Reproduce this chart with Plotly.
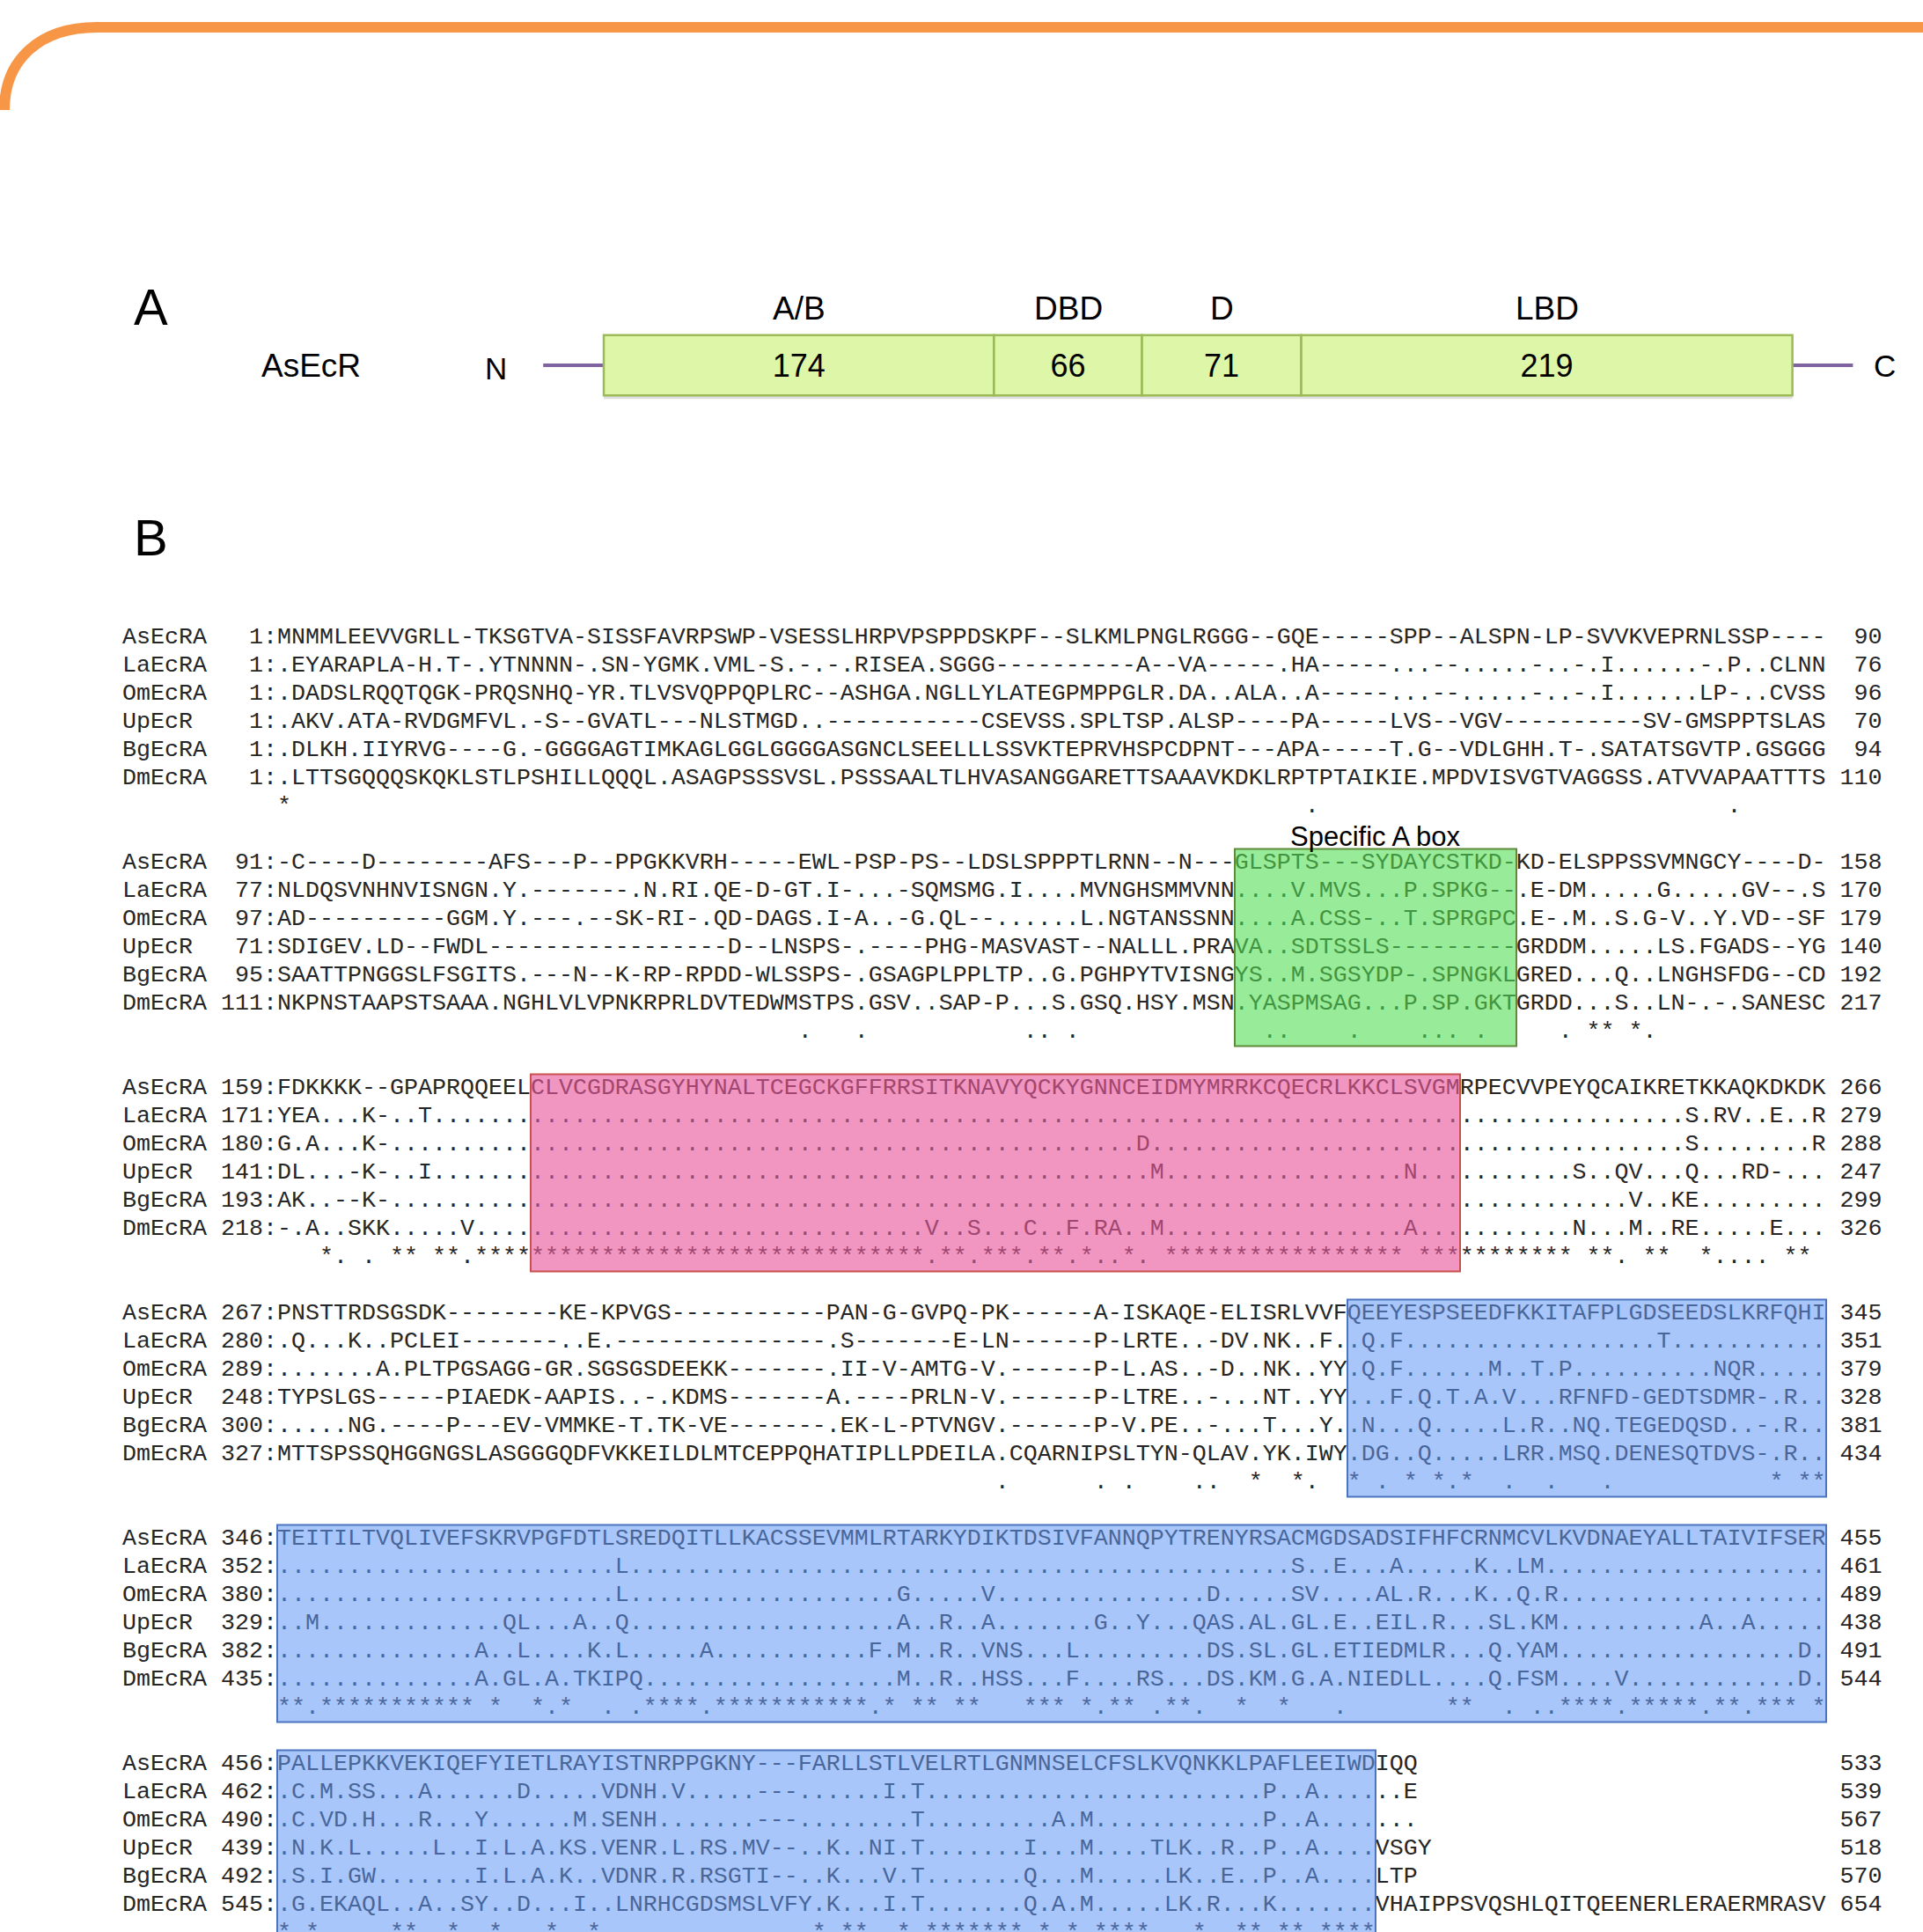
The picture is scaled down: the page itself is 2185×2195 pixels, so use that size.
import numpy as np
import plotly.graph_objects as go

FIG_W, FIG_H = 2185, 2195

# ---------------- Panel A: AsEcR domain architecture ----------------
PROTEIN = "AsEcR"
DOMAIN_NAMES = ["A/B", "DBD", "D", "LBD"]
DOMAIN_LENGTHS = [174, 66, 71, 219]

# ---------------- Panel B: multiple sequence alignment ----------------
SPECIES = ["AsEcRA", "LaEcRA", "OmEcRA", "UpEcR", "BgEcRA", "DmEcRA"]

BLOCK_STARTS = [
    [1, 1, 1, 1, 1, 1],
    [91, 77, 97, 71, 95, 111],
    [159, 171, 180, 141, 193, 218],
    [267, 280, 289, 248, 300, 327],
    [346, 352, 380, 329, 382, 435],
    [456, 462, 490, 439, 492, 545],
]
BLOCK_ENDS = [
    [90, 76, 96, 70, 94, 110],
    [158, 170, 179, 140, 192, 217],
    [266, 279, 288, 247, 299, 326],
    [345, 351, 379, 328, 381, 434],
    [455, 461, 489, 438, 491, 544],
    [533, 539, 567, 518, 570, 654],
]

BLOCK_1 = [
    "MNMMLEEVVGRLL-TKSGTVA-SISSFAVRPSWP-VSESSLHRPVPSPPDSKPF--SLKMLPNGLRGGG--GQE-----SPP--ALSPN-LP-SVVKVEPRNLSSP----",
    ".EYARAPLA-H.T-.YTNNNN-.SN-YGMK.VML-S.-.-.RISEA.SGG" + "G----------A--VA-----.HA-----...--.....-..-.I......-.P..CLNN",
    ".DADSLRQQTQGK-PRQSNHQ-YR.TLVSVQPPQPLRC--ASHGA.NGLLY" + "LATEGPMPPGLR.DA..ALA..A-----...--.....-..-.I......LP-..CVSS",
    ".AKV.ATA-RVDGMFVL.-S--GVATL---NLSTMGD.." + "-----------" + "CSEVSS.SPLTSP.ALSP----PA-----LVS--VGV----------SV-GMSPPTSLAS",
    ".DLKH.IIYRVG----G.-GGGGAGTIMKAGLGGLGGGGASGNCLSEELL" + "LSSVKTEPRVHSPCDPNT---APA-----T.G--VDLGHH.T-.SATATSGVTP.GSGGG",
    ".LTTSGQQQSKQKLSTLPSHILLQQQL.ASAGPSSSVSL.PSSSAALTLH" + "VASANGGARETTSAAAVKDKLRPTPTAIKIE.MPDVISVGTVAGGSS.ATVVAPAATTTS",
]
BLOCK_2 = [
    "-C----D--------AFS---P--PPGKKVRH-----EWL-PSP-PS--L" + "DSLSPPPTLRNN--N---GLSPTS---SYDAYCSTKD-KD-ELSPPSSVMNGCY----D-",
    "NLDQSVNHNVISNGN.Y.-------.N.RI.QE-D-GT.I-...-SQMSM" + "G.I....MVNGHSMMVNN....V.MVS...P.SPKG--.E-DM.....G.....GV--.S",
    "AD----------GGM.Y.---.--SK-RI-.QD-DAGS.I-A..-G.QL-" + "-......L.NGTANSSNN....A.CSS-..T.SPRGPC.E-.M..S.G-V..Y.VD--SF",
    "SDIGEV.LD--FWDL" + "-" * 17 + "D--LNSPS-.----PHG-" + "MASVAST--NALLL.PRAVA..SDTSSLS---------GRDDM.....LS.FGADS--YG",
    "SAATTPNGGSLFSGITS.---N--K-RP-RPDD-WLSSPS-.GSAGPLPP" + "LTP..G.PGHPYTVISNGYS..M.SGSYDP-.SPNGKLGRED...Q..LNGHSFDG--CD",
    "NKPNSTAAPSTSAAA.NGHLVLVPNKRPRLDVTEDWMSTPS.GSV..SAP" + "-P...S.GSQ.HSY.MSN.YASPMSAG...P.SP.GKTGRDD...S..LN-.-.SANESC",
]
BLOCK_3 = [
    "FDKKKK--GPAPRQQEEL" + "CLVCGDRASGYHYNALTCEGCKGFFRRSITKN" + "AVYQCKYGNNCEIDMYMRRKCQECRLKKCLSVGM" + "RPECVVPEYQCAIKRETKKAQKDKDK",
    "YEA...K-..T......." + "." * 66 + "................S.RV..E..R",
    "G.A...K-.........." + "." * 43 + "D" + "." * 22 + "................S........R",
    "DL...-K-..I......." + "." * 44 + "M" + "." * 17 + "N..." + "........S..QV...Q...RD-...",
    "AK..--K-.........." + "." * 66 + "............V..KE.........",
    "-.A..SKK.....V...." + "." * 28 + "V..S...C..F.RA..M" + "." * 17 + "A..." + "........N...M..RE.....E...",
]
BLOCK_4 = [
    "PNSTTRDSGSDK--------KE-KPVGS-----------PAN-G-GVPQ-" + "PK------A-ISKAQE-ELISRLVVF" + "QEEYESPSEEDFKKITAFPLGDSEEDSLKRFQHI",
    ".Q...K..PCLEI-------..E.---------------.S-------E-" + "LN------P-LRTE..-DV.NK..F." + ".Q.F" + "." * 18 + "T" + "." * 11,
    ".......A.PLTPGSAGG-GR.SGSGSDEEKK-------.II-V-AMTG-" + "V.------P-L.AS..-D..NK..YY" + ".Q.F......M..T.P..........NQR.....",
    "TYPSLGS-----PIAEDK-AAPIS..-.KDMS-------A.----PRLN-" + "V.------P-LTRE..-...NT..YY" + "...F.Q.T.A.V...RFNFD-GEDTSDMR-.R..",
    ".....NG.----P---EV-VMMKE-T.TK-VE-------.EK-L-PTVNG" + "V.------P-V.PE..-...T...Y." + ".N...Q.....L.R..NQ.TEGEDQSD..-.R..",
    "MTTSPSSQHGGNGSLASGGGQDFVKKEILDLMTCEPPQHATIPLLPDEIL" + "A.CQARNIPSLTYN-QLAV.YK.IWY" + ".DG..Q.....LRR.MSQ.DENESQTDVS-.R..",
]
BLOCK_5 = [
    "TEITILTVQLIVEFSKRVPGFDTLSREDQITLLKACSSEVMMLRTARKYD" + "IKTDSIVFANNQPYTRENYRSACMGDSADSIFHFCRNMCVLKVDNAEYALLTAIVIFSER",
    "." * 24 + "L" + "." * 47 + "S..E...A.....K..LM" + "." * 20,
    "." * 24 + "L" + "." * 19 + "G" + "." * 5 + "V" + "." * 15 + "D" + "." * 5 + "SV....AL.R...K..Q.R" + "." * 19,
    "..M" + "." * 13 + "QL...A..Q" + "." * 19 + "A..R..A" + "." * 7 + "G..Y..." + "QAS.AL.GL.E..EIL.R...SL.KM" + "." * 10 + "A..A" + "." * 5,
    "." * 14 + "A..L....K.L.....A" + "." * 11 + "F.M..R..VNS...L" + "." * 9 + "DS.SL.GL.ETIEDMLR" + "..." + "Q.YAM" + "." * 17 + "D.",
    "." * 14 + "A.GL.A.TKIPQ" + "." * 18 + "M..R..HSS...F" + "...." + "RS" + "..." + "DS.KM.G.A.NIEDLL" + "...." + "Q.FSM" + "...." + "V" + "." * 12 + "D.",
]
BLOCK_6 = [
    "PALLEPKKVEKIQEFYIETLRAYISTNRPPGKNY---FARLLSTLVELRT" + "LGNMNSELCFSLKVQNKKLPAFLEEIWD" + "IQQ",
    ".C.M.SS...A......D.....VDNH.V.....---......I.T...." + "." * 20 + "P..A...." + "..E",
    ".C.VD.H...R...Y......M.SENH.......---........T...." + ".....A.M" + "." * 12 + "P..A...." + "...",
    ".N.K.L.....L..I.L.A.KS.VENR.L.RS.MV--..K..NI.T...." + "...I...M....TLK..R..P..A...." + "VSGY",
    ".S.I.GW.......I.L.A.K..VDNR.R.RSGTI--..K...V.T...." + "...Q...M.....LK..E..P..A...." + "LTP",
    ".G.EKAQL..A..SY..D...I..LNRHCGDSMSLVFY.K...I.T...." + "...Q.A.M.....LK.R...K......." + "VHAIPPSVQSHLQITQEENERLERAERMRASV",
]
BLOCKS = [BLOCK_1, BLOCK_2, BLOCK_3, BLOCK_4, BLOCK_5, BLOCK_6]

CONSENSUS = [
    "*" + " " * 72 + "." + " " * 29 + "." + " " * 6,
    " " * 37 + "." + "   ." + " " * 11 + ".." + " ." + " " * 13 + ".." + "    ." + "    ..." + " ." + " " * 5 + "." + " **" + " *.",
    "   *." + " ." + " **" + " **." + "****" + "*" * 28 + "." + "**" + "." + "***" + "." + "**" + "." + "*" + ".." + "*" + "." + " "
    + "*" * 17 + " " + "***" + "*" * 8 + " **." + " **" + "  *" + "...." + " **" + " ",
    " " * 51 + "." + " " * 6 + "." + " ." + " " * 4 + ".." + "  *" + "  *." + "  *" + " ." + " *" + " *.*" + "  ." + "  ." + "   ." + " " * 11 + "*" + " **",
    "**." + "*" * 11 + " *" + "  *" + ".*" + "  ." + " ." + "****" + "." + "*" * 11 + ".*" + " **" + " **" + "   ***" + " *." + "** " + ".**." + "  *"
    + "  *" + "   ." + " " * 7 + "**" + "  . .." + "****" + "." + "*****" + ".**.***" + " *",
    "* *     **  *  *   *  *" + " " * 15 + "* **  * " + "*" * 7 + " * * ****   *  ** ** ****",
]

# Highlighted alignment regions: (block index, first column, last column, style key)
HIGHLIGHTS = [
    (1, 69, 88, "abox"),
    (2, 19, 84, "dbd"),
    (3, 77, 110, "lbd"),
    (4, 1, 110, "lbd"),
    (5, 1, 78, "lbd"),
]
HIGHLIGHT_STYLE = {
    "abox": dict(fill="rgba(83,222,83,0.60)", line="#5E8A3A"),
    "dbd": dict(fill="rgba(231,88,156,0.63)", line="#C8504F"),
    "lbd": dict(fill="rgba(99,153,246,0.56)", line="#4A74C0"),
}

SEQ_COLS = 110
for blk in BLOCKS:
    for s in blk:
        assert len(s) <= SEQ_COLS, (len(s), s)
for c in CONSENSUS:
    assert len(c) <= SEQ_COLS, (len(c), c)

# ---------------- Page geometry ----------------
CHAR_W = 16.0          # px per alignment column
COL1_LEFT = 315.0      # px, left edge of alignment column 1
ROW_H = 32.0           # px per text row
ROW0 = 724.5           # px, centre of first alignment row
ROWS_PER_BLOCK = 8
MONO_SIZE = CHAR_W / 0.6001

BAR_ROW = -9.67
BAR_HEIGHT = 2.14
HEADER_ROW = -11.7
RES_LEFT_PX, RES_RIGHT_PX = 686.0, 2036.6
TAIL_RES = 27

res_per_px = sum(DOMAIN_LENGTHS) / (RES_RIGHT_PX - RES_LEFT_PX)

NBSP = "\u00a0"

fig = go.Figure()

# ---- Panel A bars ----
lengths = np.array(DOMAIN_LENGTHS)
starts = np.concatenate([[0], np.cumsum(lengths)[:-1]])
total = int(lengths.sum())

fig.add_trace(go.Bar(
    x=lengths, base=starts, y=[BAR_ROW + 0.12] * len(lengths), orientation="h",
    width=BAR_HEIGHT, xaxis="x2", yaxis="y",
    marker=dict(color="rgba(0,0,0,0.13)", line=dict(width=0)),
    hoverinfo="skip", showlegend=False,
))
fig.add_trace(go.Bar(
    x=lengths, base=starts, y=[BAR_ROW] * len(lengths), orientation="h",
    width=BAR_HEIGHT, xaxis="x2", yaxis="y",
    marker=dict(color="#DDF6A8", line=dict(color="#9BBB59", width=2.5)),
    text=[str(v) for v in DOMAIN_LENGTHS], textposition="inside",
    insidetextanchor="middle", constraintext="none",
    textfont=dict(family="Liberation Sans", size=36, color="#000000"),
    hoverinfo="skip", showlegend=False,
))

# N / C terminal tails
for xa, xb in [(-TAIL_RES, 0), (total, total + TAIL_RES)]:
    fig.add_shape(type="line", xref="x2", yref="y", x0=xa, x1=xb, y0=BAR_ROW, y1=BAR_ROW,
                  line=dict(color="#8064A2", width=4), layer="below")

annotations = []
for name, s, ln in zip(DOMAIN_NAMES, starts, lengths):
    annotations.append(dict(xref="x2", yref="y", x=s + ln / 2, y=HEADER_ROW, text=name,
                            showarrow=False, xanchor="center", yanchor="middle",
                            font=dict(family="Liberation Sans", size=37, color="#000")))
annotations.append(dict(xref="x2", yref="y", x=-TAIL_RES - 21, y=BAR_ROW + 0.12, text="N",
                        showarrow=False, font=dict(family="Liberation Sans", size=35, color="#000")))
annotations.append(dict(xref="x2", yref="y", x=total + TAIL_RES + 14, y=BAR_ROW, text="C",
                        showarrow=False, font=dict(family="Liberation Sans", size=35, color="#000")))
annotations.append(dict(xref="x", yref="y", x=-1.25, y=BAR_ROW, text=PROTEIN, xanchor="left",
                        showarrow=False, font=dict(family="Liberation Sans", size=37, color="#000")))
annotations.append(dict(xref="x", yref="y", x=-8.94, y=-11.75, text="A", showarrow=False,
                        font=dict(family="Liberation Sans", size=58, color="#000")))
annotations.append(dict(xref="x", yref="y", x=-8.94, y=-3.55, text="B", showarrow=False,
                        font=dict(family="Liberation Sans", size=58, color="#000")))

# ---- Panel B alignment text ----
row_y, row_text = [], []
for b, blk in enumerate(BLOCKS):
    for i, name in enumerate(SPECIES):
        seq = blk[i].ljust(SEQ_COLS)
        line = f"{name:<6}{BLOCK_STARTS[b][i]:>4}:{seq} {BLOCK_ENDS[b][i]:>3}"
        row_y.append(b * ROWS_PER_BLOCK + i)
        row_text.append(line.replace(" ", NBSP))
    row_y.append(b * ROWS_PER_BLOCK + len(SPECIES))
    row_text.append((" " * 11 + CONSENSUS[b]).replace(" ", NBSP))

fig.add_trace(go.Scatter(
    x=[-11] * len(row_y), y=row_y, text=row_text, mode="text",
    textposition="middle right",
    textfont=dict(family="Liberation Mono", size=MONO_SIZE, color="#262626"),
    hoverinfo="skip", showlegend=False, xaxis="x", yaxis="y",
))

# highlighted regions
for b, c0, c1, key in HIGHLIGHTS:
    st = HIGHLIGHT_STYLE[key]
    top = b * ROWS_PER_BLOCK - 0.5
    fig.add_shape(type="rect", xref="x", yref="y", x0=c0 - 1, x1=c1,
                  y0=top, y1=top + len(SPECIES) + 1,
                  fillcolor=st["fill"], line=dict(color=st["line"], width=2), layer="above")

annotations.append(dict(xref="x", yref="y", x=(69 - 1 + 88) / 2, y=ROWS_PER_BLOCK - 0.93,
                        text="Specific A box", showarrow=False,
                        font=dict(family="Liberation Sans", size=31, color="#000")))


# ---- decorative orange frame corner ----
def pxx(v):
    return v / FIG_W


def pxy(v):
    return 1 - v / FIG_H


frame_path = (f"M {pxx(5)},{pxy(125)} C {pxx(5)},{pxy(68)} {pxx(45)},{pxy(31)} {pxx(110)},{pxy(31)} "
              f"L {pxx(2200)},{pxy(31)}")
fig.add_shape(type="path", xref="paper", yref="paper", path=frame_path,
              line=dict(color="#F79646", width=12), layer="above")

x_range = [(0 - COL1_LEFT) / CHAR_W, (FIG_W - COL1_LEFT) / CHAR_W]
y_range = [(FIG_H - ROW0) / ROW_H, (0 - ROW0) / ROW_H]
x2_range = [(0 - RES_LEFT_PX) * res_per_px, (FIG_W - RES_LEFT_PX) * res_per_px]

axis_off = dict(visible=False, showgrid=False, zeroline=False, fixedrange=True)
fig.update_layout(
    width=FIG_W, height=FIG_H,
    margin=dict(l=0, r=0, t=0, b=0, pad=0),
    paper_bgcolor="white", plot_bgcolor="white",
    barmode="overlay", showlegend=False,
    xaxis=dict(domain=[0, 1], range=x_range, **axis_off),
    xaxis2=dict(domain=[0, 1], range=x2_range, overlaying="x", anchor="y", **axis_off),
    yaxis=dict(domain=[0, 1], range=y_range, **axis_off),
    annotations=annotations,
)

fig.write_html("out.html", config={"displayModeBar": False})
